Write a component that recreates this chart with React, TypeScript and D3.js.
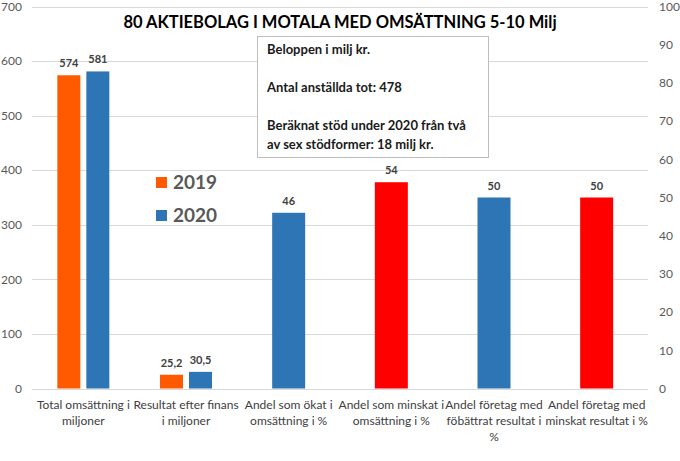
import React from "react";
import * as d3 from "d3";

const categories = [
  ["Total omsättning i", "miljoner"],
  ["Resultat efter finans", "i miljoner"],
  ["Andel som ökat i", "omsättning i %"],
  ["Andel som minskat i", "omsättning i %"],
  ["Andel företag med", "föbättrat resultat i", "%"],
  ["Andel företag med", "minskat resultat i %"],
];
const years = ["2019", "2020"];
const values2019 = [574, 25.2];
const values2020 = [581, 30.5];
const pctValues = [46, 54, 50, 50];
const pctColors = ["#2E75B6", "#FF0000", "#2E75B6", "#FF0000"];
const leftTicks = [0, 100, 200, 300, 400, 500, 600, 700];
const rightTicks = [0, 10, 20, 30, 40, 50, 60, 70, 80, 90, 100];
const yearColors = ["#FF5A00", "#2E75B6"];
const title = "80 AKTIEBOLAG I MOTALA MED OMSÄTTNING 5-10 Milj";
const boxLines = [
  "Beloppen i milj kr.",
  "",
  "Antal anställda tot: 478",
  "",
  "Beräknat stöd under 2020 från två",
  "av sex stödformer: 18 milj kr.",
];

const W = 680;
const H = 461;
const left = 32;
const right = 648;
const top = 6.5;
const bottom = 388.5;
const font = "Lato, 'Open Sans', sans-serif";

const fmt = (v: number) => (Number.isInteger(v) ? String(v) : String(v).replace(".", ","));

export default function App() {
  const x = d3.scaleBand<number>().domain(d3.range(categories.length)).range([left, right]).padding(0);
  const yL = d3.scaleLinear().domain([0, 700]).range([bottom, top]);
  const yR = d3.scaleLinear().domain([0, 100]).range([bottom, top]);
  const inner = d3.scaleBand<string>().domain(years).range([-26, 26]).paddingInner(6 / 29);
  const singleW = 33;
  const series = [values2019, values2020];

  return (
    <svg width={W} height={H} style={{ position: "absolute", left: 0, top: 0, background: "#fff" }} fontFamily={font}>
      {leftTicks.map((t) => (
        <g key={"l" + t}>
          <line x1={left} x2={right} y1={Math.round(yL(t)) + 0.5} y2={Math.round(yL(t)) + 0.5} stroke="#d9d9d9" strokeWidth={1} />
          <text x={22} y={yL(t)} dy="0.35em" textAnchor="end" fontSize={12} fill="#595959">{t}</text>
        </g>
      ))}
      {rightTicks.map((t) => (
        <text key={"r" + t} x={659} y={yR(t)} dy="0.35em" textAnchor="start" fontSize={12} fill="#595959">{t}</text>
      ))}
      {series.map((vals, si) =>
        vals.map((v, ci) => {
          const cx = x(ci)! + x.bandwidth() / 2;
          const bx = cx + inner(years[si])!;
          return (
            <g key={`s${si}-${ci}`}>
              <rect x={bx} y={yL(v)} width={inner.bandwidth()} height={yL(0) - yL(v)} fill={yearColors[si]} />
              <text x={bx + inner.bandwidth() / 2} y={yL(v) - 8} textAnchor="middle" fontSize={11} fontWeight={700} fill="#404040">{fmt(v)}</text>
            </g>
          );
        })
      )}
      {pctValues.map((v, i) => {
        const ci = i + 2;
        const cx = x(ci)! + x.bandwidth() / 2;
        return (
          <g key={"p" + i}>
            <rect x={cx - singleW / 2} y={yR(v)} width={singleW} height={yR(0) - yR(v)} fill={pctColors[i]} />
            <text x={cx} y={yR(v) - 8} textAnchor="middle" fontSize={11} fontWeight={700} fill="#404040">{fmt(v)}</text>
          </g>
        );
      })}
      {categories.map((lines, ci) => (
        <text key={"c" + ci} x={x(ci)! + x.bandwidth() / 2} y={405} textAnchor="middle" fontSize={12} fill="#404040">
          {lines.map((ln, li) => (
            <tspan key={li} x={x(ci)! + x.bandwidth() / 2} y={405 + li * 16} dy="0.35em">{ln}</tspan>
          ))}
        </text>
      ))}
      <text x={340} y={22} dy="0.35em" textAnchor="middle" fontSize={16.5} fontWeight={700} fill="#000">{title}</text>
      <rect x={257.5} y={36.5} width={231} height={121} fill="#fff" stroke="#bfbfbf" strokeWidth={1} />
      {boxLines.map((ln, i) => (
        <text key={"b" + i} x={267} y={49 + i * 19} dy="0.35em" fontSize={13} fontWeight={700} fill="#1a1a1a">{ln}</text>
      ))}
      {years.map((yr, i) => (
        <g key={"lg" + yr}>
          <rect x={156} y={177 + i * 33} width={11} height={11} fill={yearColors[i]} />
          <text x={173} y={182.5 + i * 33} dy="0.35em" fontSize={19} fontWeight={700} fill="#595959">{yr}</text>
        </g>
      ))}
    </svg>
  );
}
